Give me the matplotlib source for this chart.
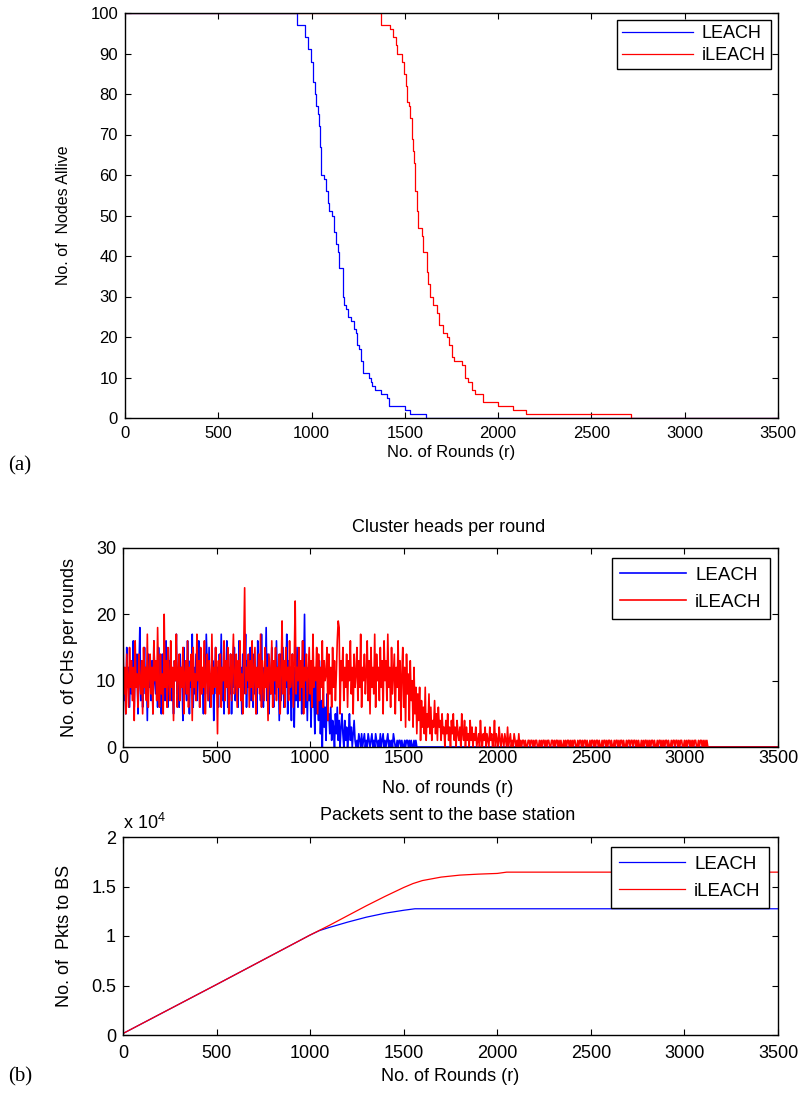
import numpy as np
import matplotlib
matplotlib.use("Agg")
import matplotlib.pyplot as plt
from matplotlib.ticker import FuncFormatter

plt.rcParams['font.family'] = ['Liberation Sans', 'DejaVu Sans']
plt.rcParams['mathtext.fontset'] = 'custom'
plt.rcParams['mathtext.rm'] = 'Liberation Sans'

# ---------------- Data ----------------
# (a) Nodes alive (step data)
leach_alive_r = [0, 921, 966, 979, 996, 1005, 1018, 1023, 1032, 1041, 1046, 1053, 1064,
                 1077, 1086, 1094, 1107, 1118, 1130, 1139, 1148, 1166, 1175, 1184, 1193,
                 1210, 1230, 1237, 1246, 1255, 1264, 1273, 1278, 1308, 1317, 1326, 1340,
                 1371, 1406, 1415, 1501, 1527, 1613, 3500]
leach_alive_v = [100, 97, 94, 91, 88, 83, 80, 77, 75, 72, 67, 60, 59,
                 56, 53, 51, 50, 46, 43, 41, 37, 30, 28, 27, 25,
                 24, 22, 21, 18, 17, 14, 13, 11, 10, 9, 8, 7,
                 6, 5, 3, 2, 1, 0, 0]
ileach_alive_r = [0, 1371, 1420, 1438, 1451, 1460, 1483, 1495, 1506, 1513, 1524, 1528,
                  1537, 1546, 1549, 1555, 1564, 1573, 1590, 1599, 1617, 1626, 1635, 1653,
                  1671, 1685, 1707, 1724, 1739, 1751, 1764, 1805, 1823, 1841, 1858, 1876,
                  1917, 2001, 2082, 2150, 2713, 3500]
ileach_alive_v = [100, 97, 96, 94, 92, 90, 88, 85, 82, 78, 77, 74,
                  69, 66, 63, 56, 51, 47, 45, 41, 36, 33, 30, 28,
                  26, 23, 21, 20, 18, 15, 14, 13, 10, 9, 7, 6,
                  4, 3, 2, 1, 0, 0]

# (b-top) Cluster heads per round, read every 5 rounds (last point at round 3500)
ch_step = 5
leach_ch = [int(v) for v in """
14 7 11 5 15 9 12 6 13 8   10 16 6 12 9 14 5 11 18 7   13 6 10 15 8 12 4 14 9 11
7 13 5 16 10 8 12 6 15 9   11 5 14 8 12 7 16 10 6 13   9 15 7 11 5 13 10 17 8 12
6 14 9 12 4 15 8 11 7 16   10 5 13 9 17 6 12 8 14 7   11 16 6 13 9 10 5 14 8 17
12 7 15 6 11 9 13 4 10 15  8 12 6 14 9 17 7 11 5 13   10 16 6 12 8 14 5 11 9 15
7 13 10 6 16 9 12 5 14 8   11 17 6 13 9 10 15 7 12 6  14 8 11 5 16 9 13 7 17 10
6 12 9 18 7 14 5 11 8 15   10 6 13 8 16 9 12 4 14 7   11 15 6 12 9 17 5 13 8 10
4 14 9 3 12 7 15 6 11 8    13 5 16 9 20 6 11 4 12 7
10 3 12 6 9 2 11 5 8 4 13 2 7 0 9 3 6 1 8 4
5 2 6 1 4 3 0 5 2 6 1 4 0 3 5 2 0 4 1 3 0 2 5 1 3 0 2 4 1 0
1 0 2 1 0 2 0 1 2 0 1 0 2 1 0 1 2 0 1 0 2 1 0 1 0 2 0 1 2 0 1 0 1 2 0 1 0 1 0 2 1 0
0 1 0 1 1 0 1 0 0 1 0 1 1 0 1 0 1 0 0 1 0 1 0 0
0 0 0 0 0
""".split()]
ileach_ch = [int(v) for v in """
17 8 12 5 14 10 6 15 9 13   7 12 4 16 9 11 6 14 10 8   13 5 15 9 12 7 17 6 11 14
8 12 5 16 10 13 7 18 9 6    14 8 11 5 20 9 13 6 15 10  7 16 9 12 4 13 10 17 6 11
14 7 12 9 15 5 11 13 8 16   6 12 10 14 4 15 9 11 7 17  10 13 6 15 8 12 9 16 5 11
14 7 13 10 6 17 8 12 9 15   11 2 13 8 14 6 12 10 16 7  13 9 15 5 11 14 7 12 17 8
10 14 6 13 9 16 7 11 5 15   24 8 12 10 14 6 13 9 16 7  11 15 5 12 9 14 8 17 6 13
10 7 15 9 12 4 14 11 8 16   6 13 10 15 7 12 9 14 5 11  19 8 13 6 15 10 12 7 16 9
11 14 6 13 22 8 12 10 15 7  13 9 16 5 12 10 14 7 11 15 8 13 6 17 9 12 10 15 5 14
7 12 9 16 6 13 10 11 15 4   14 8 12 6 15 9 13 7 11 16  19 18 5 13 10 15 7 12 9 14
6 13 10 16 8 12 5 14 9 11   15 7 13 9 17 6 12 10 14 8  11 16 7 13 5 15 9 12 8 17
6 14 10 12 7 15 9 13 5 16   10 13 7 17 9 12 6 15 8 11  14 5 12 9 16 7 13 4 11 15
6 12 3 14 8 11 4 13 7 10 3 12 5 9
2 8 4 9 1 7 3 6 2 9 1 5 3 8 2 6 1 4 3 7 2 5 1 6 3 4 1 5 2 3 0 4 2 5 1 3
0 4 2 5 1 3 0 4 2 1  3 0 5 2 1 4 0 3 1 2  0 4 1 3 0 2 1 3 0 1  2 0 4 1 0 2 1 3 0 2
1 0 3 1 2 0 1 4 0 2  1 0 3 1 0 2 1 0 2 1  0 3 0 1 2 0 1 0 2 1  0 1 0 2
""".split()] + [int(c) for c in (
    "0101101001" "1011010110" "0101011010" "1100110101" "1010100101"
    "0110101011" "0010110101" "1010010110" "1011010010" "1101011010"
    "0101101011" "0100101101" "1011010100" "1010110101" "0110100101"
    "1010101101" "0010110110" "1011001010" "1101010110" "0101101010"
    "1" "00")]

# (b-bottom) Packets sent to BS
leach_pk_r = [0, 500, 1000, 1050, 1100, 1200, 1300, 1400, 1500, 1560, 3500]
leach_pk_v = [150, 5100, 10100, 10550, 10850, 11400, 11900, 12300, 12600, 12750, 12750]
ileach_pk_r = [0, 500, 1000, 1100, 1200, 1300, 1400, 1500, 1550, 1600, 1700, 1800, 1900,
               2000, 2050, 3500]
ileach_pk_v = [150, 5100, 10100, 11050, 12050, 13050, 14000, 14900, 15300, 15600, 15950,
               16150, 16250, 16320, 16450, 16450]

x_ticks = [0, 500, 1000, 1500, 2000, 2500, 3000, 3500]
labels = ['LEACH', 'iLEACH']
BLUE = '#0000ff'
RED = '#ff0000'

# ---------------- Figure ----------------
W, H = 802, 1095
fig = plt.figure(figsize=(W / 100, H / 100), dpi=100)


def frac_axes(l, t, r, b):
    return fig.add_axes([l / W, 1 - b / H, (r - l) / W, (b - t) / H])


def style(ax, size, xpad, ypad):
    ax.tick_params(direction='in', top=True, right=True, length=4, width=0.8,
                   labelsize=size, colors='black')
    ax.tick_params(axis='x', pad=xpad)
    ax.tick_params(axis='y', pad=ypad)
    for s in ax.spines.values():
        s.set_linewidth(1.0)
        s.set_color('black')


def legend(ax, dx, dy, fs, hl, bp, ls):
    w = ax.get_position().width * W
    h = ax.get_position().height * H
    lg = ax.legend(loc='upper right', bbox_to_anchor=(1 - dx / w, 1 - dy / h), fontsize=fs,
                   fancybox=False, edgecolor='black', framealpha=1, handlelength=hl,
                   borderpad=bp, labelspacing=ls, handletextpad=0.5, borderaxespad=0)
    lg.get_frame().set_linewidth(1.0)
    return lg


# Panel (a)
ax1 = frac_axes(125, 13, 778, 418)
ax1.plot(leach_alive_r, leach_alive_v, color=BLUE, lw=0.9, drawstyle='steps-post', label=labels[0])
ax1.plot(ileach_alive_r, ileach_alive_v, color=RED, lw=0.9, drawstyle='steps-post', label=labels[1])
ax1.set_xlim(0, 3500)
ax1.set_ylim(0, 100)
ax1.set_xticks(x_ticks)
ax1.set_yticks(range(0, 101, 10))
style(ax1, 12, 6, 5)
ax1.set_xlabel('No. of Rounds (r)', fontsize=12)
ax1.set_ylabel('No. of  Nodes Allive', fontsize=11.5)
ax1.xaxis.set_label_coords(0.5, -0.066)
ax1.yaxis.set_label_coords(-0.082, 0.5)
legend(ax1, 7, 7, 13, 3.9, 0.3, 0.25)

# Panel (b) top
ax2 = frac_axes(123, 548, 778, 747)
r_l = list(np.arange(len(leach_ch)) * ch_step) + [3500]
r_i = list(np.arange(len(ileach_ch)) * ch_step) + [3500]
ax2.plot(r_l, leach_ch + [0], color=BLUE, lw=1.2, label=labels[0])
ax2.plot(r_i, ileach_ch + [0], color=RED, lw=1.2, label=labels[1])
ax2.set_xlim(0, 3500)
ax2.set_ylim(0, 30)
ax2.set_xticks(x_ticks)
ax2.set_yticks([0, 10, 20, 30])
style(ax2, 13, 2, 5)
ax2.set_xlabel('No. of rounds (r)', fontsize=13)
ax2.set_ylabel('No. of CHs per rounds', fontsize=13)
ax2.xaxis.set_label_coords(0.495, -0.166)
ax2.yaxis.set_label_coords(-0.069, 0.5)
ax2.text(0.497, 1.1055, 'Cluster heads per round', transform=ax2.transAxes,
         ha='center', va='center', fontsize=13)
legend(ax2, 8, 10, 13.5, 3.5, 0.45, 0.55)

# Panel (b) bottom
ax3 = frac_axes(123, 837, 778, 1035)
ax3.plot(leach_pk_r, leach_pk_v, color=BLUE, lw=0.9, label=labels[0])
ax3.plot(ileach_pk_r, ileach_pk_v, color=RED, lw=0.9, label=labels[1])
ax3.set_xlim(0, 3500)
ax3.set_ylim(0, 20000)
ax3.set_xticks(x_ticks)
ax3.set_yticks([0, 5000, 10000, 15000, 20000])
ax3.yaxis.set_major_formatter(FuncFormatter(lambda v, p: '%g' % (v / 1e4)))
style(ax3, 13, 7, 5)
ax3.set_xlabel('No. of Rounds (r)', fontsize=13)
ax3.set_ylabel('No. of  Pkts to BS', fontsize=13)
ax3.xaxis.set_label_coords(0.5, -0.167)
ax3.yaxis.set_label_coords(-0.076, 0.5)
ax3.text(0.496, 1.111, 'Packets sent to the base station', transform=ax3.transAxes,
         ha='center', va='center', fontsize=13)
ax3.text(0.0, 1.072, r'x 10$^{4}$', transform=ax3.transAxes, ha='left', va='center', fontsize=13)
legend(ax3, 9, 10, 13.5, 3.5, 0.45, 0.55)

# Sub-figure labels
fig.text(8 / W, 1 - 466 / H, '(a)', fontsize=15, family=['Liberation Serif', 'DejaVu Serif'],
         ha='left', va='center')
fig.text(8 / W, 1 - 1077 / H, '(b)', fontsize=15, family=['Liberation Serif', 'DejaVu Serif'],
         ha='left', va='center')

fig.savefig('out.png', dpi=100, facecolor='white')
